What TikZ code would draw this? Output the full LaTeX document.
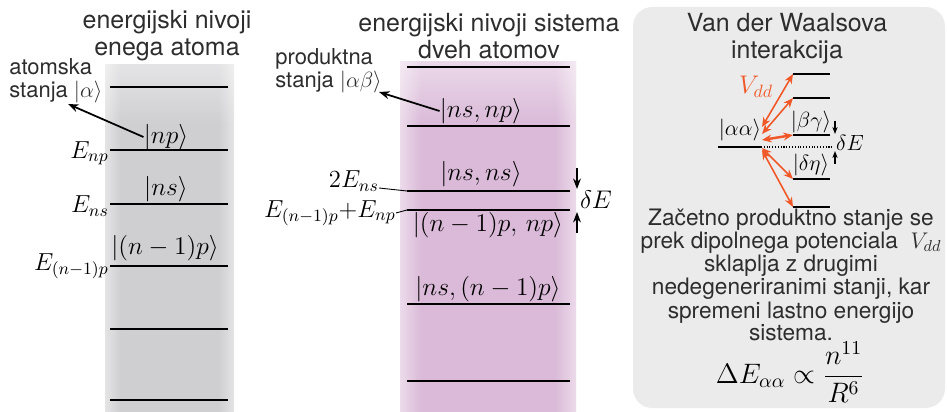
\RequirePackage{fix-cm}
\documentclass[tikz,border=0pt]{standalone}
\usepackage{fontspec}
\setmainfont{TeX Gyre Heros}
\usetikzlibrary{arrows.meta,fadings}
\definecolor{vdd}{RGB}{240,88,40}
\definecolor{txt}{RGB}{45,45,45}
\definecolor{panel}{RGB}{235,235,235}
\definecolor{graymid}{RGB}{207,207,210}
\definecolor{grayedge}{RGB}{228,228,229}
\definecolor{pinkmid}{RGB}{218,186,216}
\definecolor{pinkedge}{RGB}{236,219,234}
\pgfdeclarehorizontalshading{colgray}{100bp}{color(0bp)=(grayedge); color(25bp)=(grayedge);
  color(31bp)=(graymid); color(69bp)=(graymid); color(75bp)=(grayedge); color(100bp)=(grayedge)}
\pgfdeclarehorizontalshading{colpink}{100bp}{color(0bp)=(pinkedge); color(25bp)=(pinkedge);
  color(31bp)=(pinkmid); color(69bp)=(pinkmid); color(75bp)=(pinkedge); color(100bp)=(pinkedge)}
\tikzset{
  level/.style={line width=1.6pt},
  slevel/.style={line width=1.3pt},
  ket/.style={inner sep=0pt,font=\fontsize{14.5}{17}\selectfont},
  sket/.style={inner sep=0pt,font=\fontsize{12.5}{15}\selectfont},
  elabel/.style={inner sep=0pt,anchor=base east,font=\fontsize{14}{17}\selectfont},
  title/.style={inner sep=0pt,align=center,text=txt,font=\fontsize{14.2}{15.3}\selectfont},
  note/.style={inner sep=0pt,align=left,text=txt,font=\fontsize{12.5}{13.2}\selectfont},
  vddarrow/.style={<->,vdd,line width=0.9pt,>={Stealth[length=5.5pt,width=4.5pt]}},
}
\begin{document}
\begin{tikzpicture}[x=0.02cm,y=-0.02cm,>={Stealth[length=6pt,width=4.5pt]}]
\useasboundingbox (0,0) rectangle (947,412);
% stolpca z nivoji
\shade[shading=colgray] (105,65) rectangle (234,412);
\fill[white,opacity=0.45,path fading=south] (105,64) rectangle (234,125);
\shade[shading=colpink] (400,62) rectangle (576,412);
\fill[white,opacity=0.45,path fading=south] (400,61) rectangle (576,125);
% okvir desno
\fill[panel,rounded corners=11pt] (633,7) rectangle (945,408);

\node[title] (t1) at (167,36) {energijski nivoji\\enega atoma};
\node[title] (t2) at (489,36) {energijski nivoji sistema\\dveh atomov};
\node[title] (t3) at (787,39) {Van der Waalsova\\interakcija};

% en atom
\foreach \y in {87,150,204,266,329,400}
  \draw[level] (110,\y) -- (228,\y);
\node[ket] (np) at (166,137) {$|np\rangle$};
\node[ket] (ns) at (166,189) {$|ns\rangle$};
\node[ket] (n1p) at (165,248) {$\left|(n-1)p\right\rangle$};
\node[elabel] (Enp) at (109,158) {$E_{np}$};
\node[elabel] (Ens) at (109,213) {$E_{ns}$};
\node[elabel] (En1p) at (109,270) {$E_{(n-1)p}$};
\node[note,anchor=north west] (atom) at (9,58) {atomska\\stanja $|\alpha\rangle$};
\coordinate (atip) at (68,104);
\draw[->,line width=1pt] (np.west) -- (atip);

% dva atoma
\foreach \y in {67,126,191,210,304,381}
  \draw[level] (407,\y) -- (570,\y);
\node[ket] (nsnp) at (481,111) {$|ns,np\rangle$};
\node[ket] (nsns) at (481,174) {$|ns,ns\rangle$};
\node[ket] (n1pnp) at (488,225) {$\left|(n-1)p,\,np\right\rangle$};
\node[ket] (nsn1p) at (488,289) {$\left|ns,(n-1)p\right\rangle$};
\node[note,anchor=north west] (prod) at (275,48) {produktna\\stanja $|\alpha\beta\rangle$};
\coordinate (ptip) at (379,92);
\draw[->,line width=1pt] (nsnp.west) -- (ptip);
\node[elabel] (E2ns) at (379,188) {$2E_{ns}$};
\node[elabel] (Esum) at (396,217) {$E_{(n-1)p}{+}E_{np}$};
\coordinate (m1) at (407,191);
\coordinate (m2) at (407,210);
\draw[line width=0.5pt] (E2ns.base east) -- (m1);
\draw[line width=0.5pt] (Esum.east) -- (m2);
\node[ket] (dE) at (596,200) {$\delta E$};
\draw[->,semithick] (577,168) -- (577,189);
\draw[->,semithick] (577,233) -- (577,212);

% van der Waals
\draw[slevel] (718,147) -- (761,147);
\draw[densely dotted,semithick] (761,147) -- (832,147);
\foreach \y [count=\i] in {74,98,135,179,207}
  \draw[slevel] (793,\y) coordinate (r\i) -- (830,\y);
\node[sket] (aa) at (740,130) {$|\alpha\alpha\rangle$};
\node[sket] (bg) at (811,122) {$|\beta\gamma\rangle$};
\node[sket] (de) at (811,165) {$|\delta\eta\rangle$};
\node[sket] (dE2) at (850,143) {$\delta E$};
\node[inner sep=0pt,text=vdd,font=\fontsize{14.5}{17}\selectfont] (V) at (756,87) {$V_{dd}$};
\foreach \i/\s in {1/127,2/134,4/148,5/150}
  \draw[vddarrow] (762,\s) -- (r\i);
\draw[vddarrow,line width=1.4pt] (762,140) -- (r3);
\draw[->,semithick,>={Stealth[length=4pt,width=3pt]}] (835,121) -- (835,134);
\draw[->,semithick,>={Stealth[length=4pt,width=3pt]}] (835,164) -- (835,151);

\node[inner sep=0pt,align=center,text=txt,font=\fontsize{12.9}{11.8}\selectfont] (txt) at (791,275)
  {Začetno produktno stanje se\\prek dipolnega potenciala \ $V_{dd}$\\sklaplja z drugimi\\nedegeneriranimi stanji, kar\\spremeni lastno energijo\\sistema.};
\node[inner sep=0pt,font=\fontsize{16}{19}\selectfont] (form) at (790,372)
  {$\displaystyle\Delta E_{\alpha\alpha}\propto\frac{n^{11}}{R^6}$};
\end{tikzpicture}
\end{document}
